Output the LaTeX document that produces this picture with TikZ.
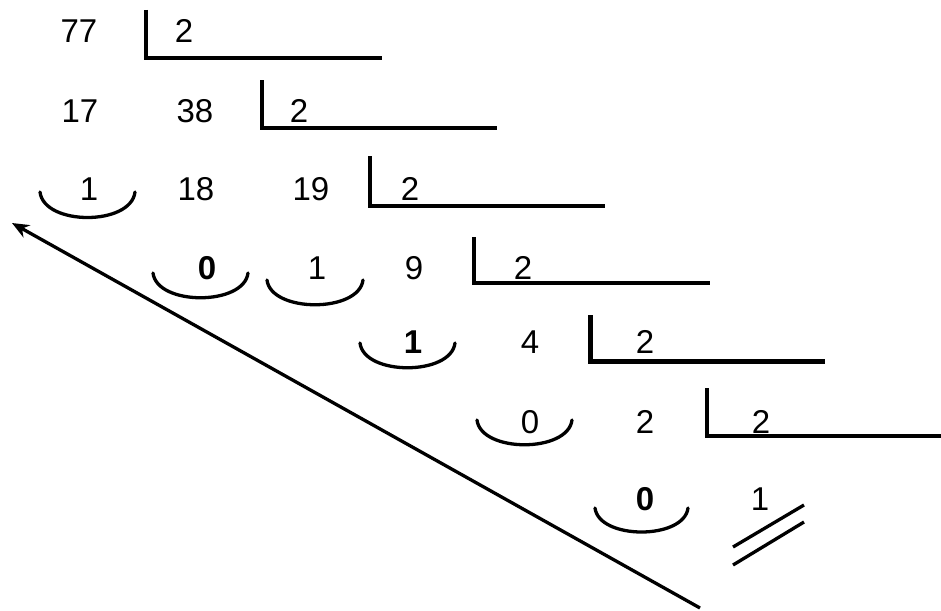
\documentclass[tikz,border=0pt]{standalone}
\usepackage{fontspec}
\setmainfont{Liberation Sans}
\usetikzlibrary{arrows.meta}
\begin{document}
\begin{tikzpicture}[x=1pt,y=-1pt,
  num/.style={anchor=base,inner sep=0pt,font=\fontsize{33}{38}\selectfont},
  bnum/.style={num,font=\fontsize{33}{38}\selectfont\bfseries},
  brk/.style={line width=3.3pt,line cap=butt,line join=miter},
  thickbrk/.style={line width=5pt,line cap=butt,line join=miter},
  remarc/.style={line width=3.3pt,line cap=round},
  bigarrow/.style={line width=3.3pt,-{Stealth[length=17pt,width=14pt]}}]
\useasboundingbox (0,0) rectangle (941,610);
% row 1
\node[num] (n77) at (79,43) {77};
\node[num] (d1) at (184,43) {2};
\draw[brk] (146,10) -- (146,58) -- (382,58);
% row 2
\node[num] (r17) at (80,122) {17};
\node[num] (n38) at (195,122) {38};
\node[num] (d2) at (299,122) {2};
\draw[brk] (262,80) -- (262,128) -- (497,128);
% row 3
\node[num] (r1a) at (89,200) {1};
\node[num] (r18) at (196,200) {18};
\node[num] (n19) at (311,200) {19};
\node[num] (d3) at (410,200) {2};
\draw[brk] (370,156) -- (370,206) -- (605,206);
\draw[remarc] (40,192) .. controls (44,226) and (131,226) .. (135,192);
% row 4
\node[bnum] (r0a) at (207,279) {0};
\node[num] (r1b) at (317,279) {1};
\node[num] (n9) at (414,279) {9};
\node[num] (d4) at (523,279) {2};
\draw[brk] (474,237) -- (474,283) -- (710,283);
\draw[remarc] (153,273) .. controls (157,306) and (244,306) .. (248,273);
\draw[remarc] (267,280) .. controls (271,313) and (359,313) .. (363,280);
% row 5
\node[bnum] (r1c) at (413,353) {1};
\node[num] (n4) at (530,353) {4};
\node[num] (d5) at (645,353) {2};
\draw[thickbrk] (590,315) -- (590,361) -- (825,361);
\draw[remarc] (360,343) .. controls (364,376) and (451,376) .. (455,343);
% row 6
\node[num] (r0b) at (530,433) {0};
\node[num] (n2) at (645,433) {2};
\node[num] (d6) at (761,433) {2};
\draw[brk] (707,388) -- (707,436) -- (941,436);
\draw[remarc] (477,420) .. controls (481,453) and (568,453) .. (572,420);
% row 7
\node[bnum] (r0c) at (645,510) {0};
\node[num] (q1) at (760,510) {1};
\draw[remarc] (595,508) .. controls (599,540) and (684,540) .. (688,508);
% double stroke
\draw[line width=3.3pt] (733,547) -- (804,505);
\draw[line width=3.3pt] (733,565) -- (804,522);
% reading arrow
\coordinate (astart) at (700,608);
\coordinate (aend) at (12,223);
\draw[bigarrow] (astart) -- (aend);
\end{tikzpicture}
\end{document}
